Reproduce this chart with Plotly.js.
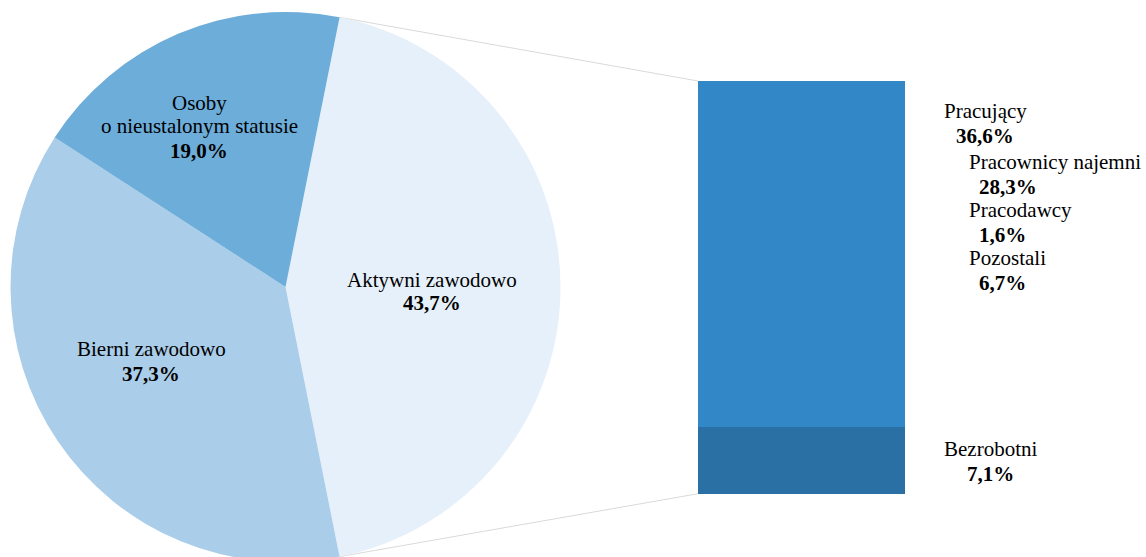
<!DOCTYPE html>
<html>
<head>
<meta charset="utf-8">
<script src="https://cdn.plot.ly/plotly-3.0.1.min.js"></script>
<style>
html,body{margin:0;padding:0;overflow:hidden;background:#fff;}
#chart{width:1146px;height:570px;}
</style>
</head>
<body>
<div id="chart"></div>
<script>
// ---- data ----
const pieLabelLines = [['Aktywni zawodowo'], ['Bierni zawodowo'], ['Osoby', 'o nieustalonym statusie']];
const pieValues = [43.7, 37.3, 19.0];
const pieColors = ['#E6F0FA', '#AACDE9', '#6DADDA'];

const barLabels = ['Bezrobotni', 'Pracujący'];
const barValues = [7.1, 36.6];
const barColors = ['#2A70A5', '#3287C6'];

const subLabels = ['Pracownicy najemni', 'Pracodawcy', 'Pozostali'];
const subValues = [28.3, 1.6, 6.7];

// ---- geometry ----
const W = 1146, H = 570;
const pieCx = 285.5, pieCy = 287, pieR = 275;
const total = pieValues.reduce((a, b) => a + b, 0);
const rotation = 90 - 360 * pieValues[0] / total / 2;

const barLeftPx = 698, barRightPx = 905, barBottomPx = 493.7, barTopPx = 81;
const barSum = barValues.reduce((a, b) => a + b, 0);
const pxPerX = (barRightPx - barLeftPx);
const xr = [-0.5 - barLeftPx / pxPerX, 0.5 + (W - barRightPx) / pxPerX];
const pxPerY = (barBottomPx - barTopPx) / barSum;
const yr = [-(H - barBottomPx) / pxPerY, barSum + barTopPx / pxPerY];

function pxToData(px, py) {
  return [xr[0] + px / W * (xr[1] - xr[0]), yr[1] - py / H * (yr[1] - yr[0])];
}
const a1 = rotation * Math.PI / 180;
const a2 = (rotation + 360 * pieValues[0] / total) * Math.PI / 180;
const pTop = pxToData(pieCx + pieR * Math.sin(a1), pieCy - pieR * Math.cos(a1));
const pBot = pxToData(pieCx + pieR * Math.sin(a2), pieCy - pieR * Math.cos(a2));

const fmt = v => v.toFixed(1).replace('.', ',') + '%';
const FONT = 'Liberation Serif, Times New Roman, serif';

const annotations = [];
function ann(text, xpx, basePx, anchor, bold) {
  annotations.push({
    text: bold ? '<b>' + text + '</b>' : text,
    x: xpx / W, y: 1 - (basePx - 7) / H,
    xref: 'paper', yref: 'paper',
    xanchor: anchor, yanchor: 'middle',
    showarrow: false,
    font: {family: FONT, size: 21, color: '#000'}
  });
}

// pie labels
ann(pieLabelLines[0][0], 432, 287, 'center');
ann(fmt(pieValues[0]), 432, 310, 'center', true);
ann(pieLabelLines[1][0], 151, 356, 'center');
ann(fmt(pieValues[1]), 151, 381, 'center', true);
ann(pieLabelLines[2][0], 199, 110, 'center');
ann(pieLabelLines[2][1], 199, 133, 'center');
ann(fmt(pieValues[2]), 199, 158, 'center', true);

// bar labels
ann(barLabels[1], 942, 118, 'left');
ann(fmt(barValues[1]), 954, 143, 'left', true);
const subBase = [169, 217, 265];
subLabels.forEach((l, i) => {
  ann(l, 967, subBase[i], 'left');
  ann(fmt(subValues[i]), 977, subBase[i] + 24.5, 'left', true);
});
ann(barLabels[0], 990, 456, 'center');
ann(fmt(barValues[0]), 990, 481, 'center', true);

const traces = [
  {
    type: 'pie',
    values: pieValues,
    labels: pieLabelLines.map(l => l.join(' ')),
    marker: {colors: pieColors, line: {width: 0}},
    sort: false,
    direction: 'clockwise',
    rotation: rotation,
    textinfo: 'none',
    hoverinfo: 'none',
    showlegend: false,
    domain: {x: [(pieCx - pieR) / W, (pieCx + pieR) / W], y: [1 - (pieCy + pieR) / H, 1 - (pieCy - pieR) / H]}
  },
  {
    type: 'scatter', mode: 'lines',
    x: [pTop[0], -0.5], y: [pTop[1], barSum],
    line: {color: '#D9D9D9', width: 1}, hoverinfo: 'none', showlegend: false
  },
  {
    type: 'scatter', mode: 'lines',
    x: [pBot[0], -0.5], y: [pBot[1], 0],
    line: {color: '#D9D9D9', width: 1}, hoverinfo: 'none', showlegend: false
  }
];
barLabels.forEach((l, i) => {
  traces.push({
    type: 'bar', x: [0], y: [barValues[i]], width: 1, name: l,
    marker: {color: barColors[i], line: {width: 0}},
    hoverinfo: 'none', showlegend: false
  });
});

const layout = {
  width: W, height: H,
  margin: {l: 0, r: 0, t: 0, b: 0, pad: 0},
  paper_bgcolor: '#fff', plot_bgcolor: 'rgba(0,0,0,0)',
  barmode: 'stack',
  xaxis: {range: xr, visible: false, fixedrange: true, domain: [0, 1]},
  yaxis: {range: yr, visible: false, fixedrange: true, domain: [0, 1]},
  annotations: annotations,
  showlegend: false
};
Plotly.newPlot('chart', traces, layout, {staticPlot: true, displayModeBar: false});
</script>
</body>
</html>
